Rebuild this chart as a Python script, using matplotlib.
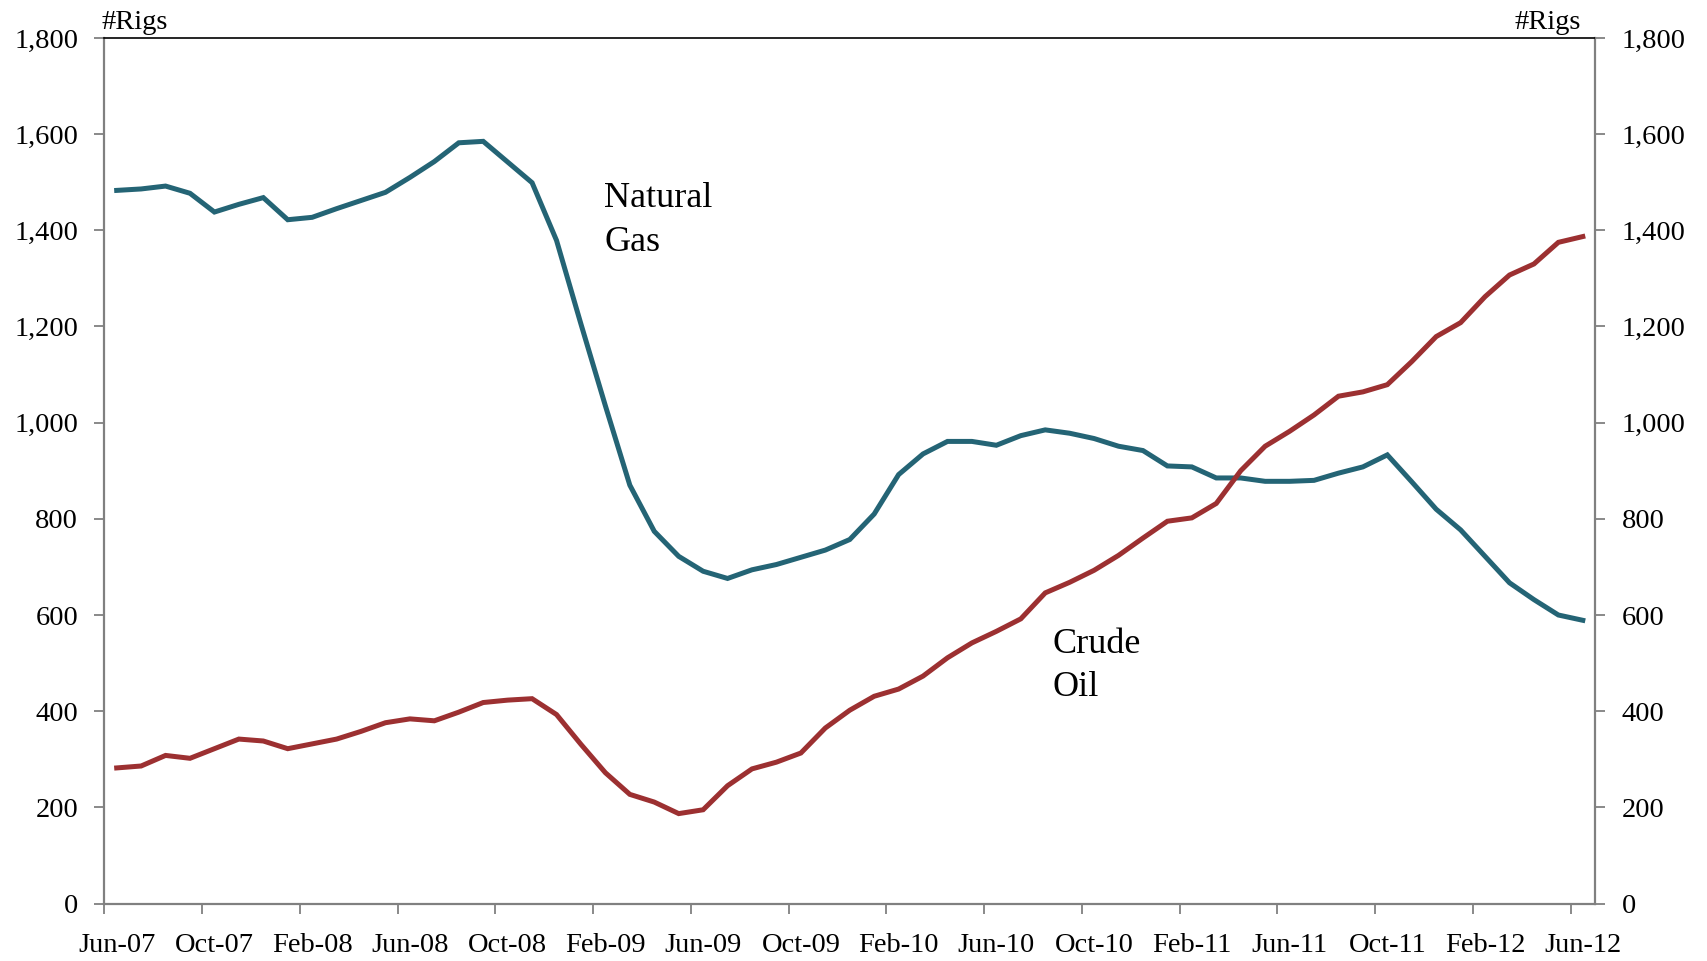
import matplotlib.pyplot as plt

# Monthly rig counts, Jun-07 .. Jun-12 (61 months)
natural_gas = [1483, 1486, 1492, 1477, 1438, 1454, 1468, 1422, 1427, 1445,
               1462, 1479, 1510, 1543, 1582, 1585, 1542, 1499, 1379, 1205,
               1035, 870, 774, 722, 691, 676, 694, 705, 720, 735,
               757, 810, 892, 935, 961, 961, 953, 973, 985, 978,
               967, 951, 942, 910, 908, 885, 885, 878, 878, 880,
               895, 908, 933, 877, 820, 777, 722, 667, 632, 600, 589]
crude_oil = [282, 286, 308, 302, 322, 342, 338, 322, 332, 342,
             358, 376, 384, 380, 398, 418, 423, 426, 393, 331,
             272, 227, 211, 187, 195, 245, 280, 294, 313, 365,
             402, 431, 446, 473, 511, 542, 566, 592, 646, 668,
             693, 724, 760, 795, 802, 832, 900, 951, 982, 1016,
             1055, 1064, 1079, 1127, 1179, 1208, 1262, 1307, 1330, 1375, 1387]
tick_labels = ["Jun-07", "Oct-07", "Feb-08", "Jun-08", "Oct-08", "Feb-09",
               "Jun-09", "Oct-09", "Feb-10", "Jun-10", "Oct-10", "Feb-11",
               "Jun-11", "Oct-11", "Feb-12", "Jun-12"]
y_ticks = [0, 200, 400, 600, 800, 1000, 1200, 1400, 1600, 1800]

plt.rcParams["font.family"] = ["Liberation Serif", "DejaVu Serif"]
gray = "#808080"

fig = plt.figure(figsize=(17.07, 9.61), dpi=100)
ax = fig.add_axes([0.0612, 0.0598, 0.8732, 0.9007])
x = list(range(len(natural_gas)))

ax.plot(x, natural_gas, color="#246475", lw=3.6, solid_joinstyle="miter")
ax.plot(x, crude_oil, color="#9C3031", lw=3.6, solid_joinstyle="miter")

ax.set_xlim(-0.5, len(x) - 0.5)
ax.set_ylim(0, 1800)

# category axis: ticks between months, labels centred on months
ax.set_xticks([-0.5 + 4 * k for k in range(16)])
ax.set_xticklabels([])
ax.set_xticks([4 * k for k in range(16)], minor=True)
ax.set_xticklabels(tick_labels, minor=True)
ax.tick_params(axis="x", which="minor", length=0, pad=21, labelsize=20.5)
ax.tick_params(axis="x", which="major", length=7, width=1.3, color=gray, direction="out")

ax.set_yticks(y_ticks)
ax.set_yticklabels([f"{v:,}" for v in y_ticks])
ax.tick_params(axis="y", length=7, width=1.3, color=gray, pad=12, labelsize=20.5)

for side in ["left", "right", "bottom"]:
    ax.spines[side].set_color(gray)
    ax.spines[side].set_linewidth(1.6)
ax.spines["top"].set_color("black")
ax.spines["top"].set_linewidth(1.2)

ax2 = ax.twinx()
ax2.set_ylim(0, 1800)
ax2.set_yticks(y_ticks)
ax2.set_yticklabels([f"{v:,}" for v in y_ticks])
ax2.tick_params(axis="y", length=7, width=1.3, color=gray, pad=12, labelsize=20.5)
for side in ["left", "right", "bottom", "top"]:
    ax2.spines[side].set_visible(False)

ax.text(-0.002, 1.003, "#Rigs", transform=ax.transAxes, fontsize=20.5, ha="left", va="bottom")
ax.text(0.9906, 1.003, "#Rigs", transform=ax.transAxes, fontsize=20.5, ha="right", va="bottom")

ax.text(19.95, 1500, "Natural\nGas", fontsize=26, ha="left", va="top", linespacing=1.42)
ax.text(38.3, 573, "Crude\nOil", fontsize=26, ha="left", va="top", linespacing=1.42)

plt.savefig("out.png", dpi=100)
